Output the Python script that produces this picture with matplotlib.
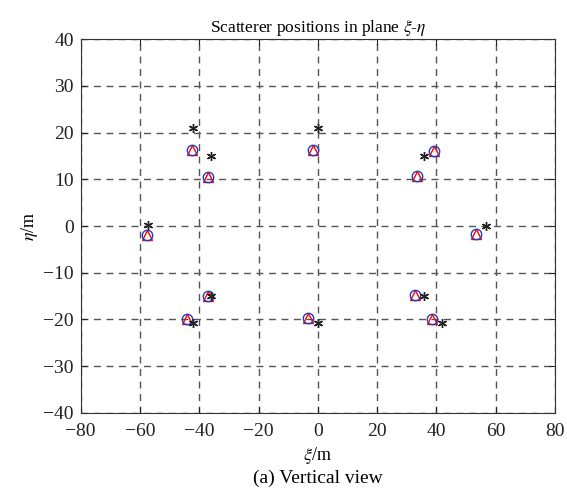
import numpy as np
import matplotlib
matplotlib.use("Agg")
import matplotlib.pyplot as plt

plt.rcParams['font.family'] = ['Liberation Serif', 'DejaVu Serif']
plt.rcParams['mathtext.fontset'] = 'stix'

# true scatterer positions (stars)
xi_true = [-42, -36, 0, 35.7, -57.2, 56.7, -36, 35.8, -42.2, 0.2, 41.8]
eta_true = [21, 15, 21, 15, 0.2, 0, -15, -15, -20.8, -20.8, -20.8]

# estimated positions (circles / triangles)
xi_est = [-42.3, -37.1, -1.5, 39.3, 33.3, -57.6, 53.4, -36.9, 32.8, -44.2, -3.2, 38.6]
eta_est = [16.2, 10.5, 16.2, 16.1, 10.6, -1.9, -1.8, -15, -14.8, -19.8, -19.6, -19.9]

fig = plt.figure(figsize=(5.67, 4.92), dpi=100)
ax = fig.add_axes([0.1423, 0.1606, 0.8367, 0.7601])

ax.plot(xi_est, eta_est, linestyle='none', marker='^', markersize=7.5,
        markerfacecolor='none', markeredgecolor='red', markeredgewidth=1.0)
ax.plot(xi_est, eta_est, linestyle='none', marker='o', markersize=7.5,
        markerfacecolor='none', markeredgecolor='#1f3fbf', markeredgewidth=1.0)
ax.plot(xi_true, eta_true, linestyle='none', marker=(6, 2, 0), markersize=6.5,
        color='#222222', markeredgewidth=1.0)

ax.set_xlim(-80, 80)
ax.set_ylim(-40, 40)
ax.set_xticks(np.arange(-80, 81, 20))
ax.set_yticks(np.arange(-40, 41, 10))
ax.grid(True, linestyle=(0, (5, 4)), color='#555555', linewidth=1.0)
ax.tick_params(direction='in', top=True, right=True, labelsize=14, length=4, colors='#222222')
ax.tick_params(axis='x', pad=7)
ax.tick_params(axis='y', pad=5)
for s in ax.spines.values():
    s.set_color('#333333')

ax.set_title(r'Scatterer positions in plane $\xi$-$\eta$', fontsize=12.5, pad=5)
ax.set_xlabel(r'$\xi$/m', fontsize=13, labelpad=4)
ax.set_ylabel(r'$\eta$/m', fontsize=13, labelpad=2)
fig.text(0.56, 0.027, '(a) Vertical view', ha='center', va='center', fontsize=14)

fig.savefig('out.png', dpi=100)
